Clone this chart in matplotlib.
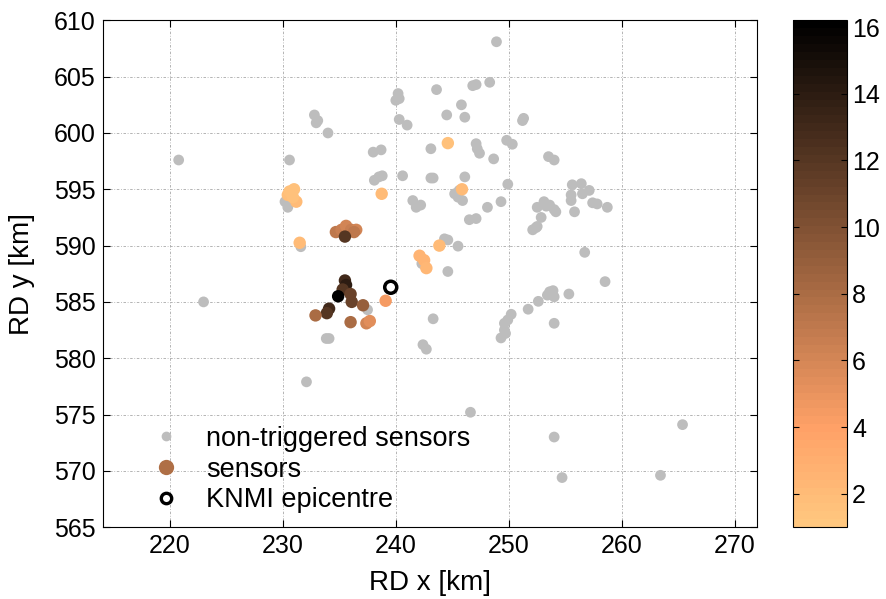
import matplotlib
matplotlib.use("Agg")
import numpy as np
from matplotlib import pyplot as plt
from matplotlib.lines import Line2D

plt.rcParams["font.family"] = ["Liberation Sans", "DejaVu Sans"]

# non-triggered sensors (RD km)
gray_x = [220.8, 223.0, 230.6, 230.2, 230.45, 231.6, 232.8, 233.1, 232.96, 234.0,
          232.1, 233.85, 234.1, 238.0, 238.7, 238.1, 238.5, 238.8, 240.2, 240.0,
          240.3, 240.3, 241.0, 240.6, 241.5, 241.8, 242.2, 243.1, 243.6, 244.5,
          245.8, 246.1, 246.1, 246.8, 247.1, 248.3, 248.9, 247.1, 247.2, 247.4,
          248.65, 249.8, 250.3, 251.3, 251.2, 253.5, 254.0, 243.1, 243.3, 249.9,
          245.2, 245.5, 245.9, 245.6, 249.3, 248.1, 246.5, 247.1, 252.5, 253.1,
          253.6, 254.0, 252.85, 252.4, 253.3, 254.15, 252.1, 252.5, 255.6, 256.4,
          257.1, 255.5, 255.5, 257.4, 257.8, 255.8, 258.7, 256.5, 256.7, 258.5,
          244.3, 244.6, 245.5, 244.6, 242.3, 237.5, 243.3, 242.4, 242.7, 253.4,
          253.9, 254.0, 255.3, 253.6, 252.6, 251.7, 250.2, 249.9, 249.6, 249.6,
          249.3, 249.7, 254.0, 246.6, 254.0, 254.7, 263.4, 265.35]
gray_y = [597.6, 585.0, 597.6, 593.9, 593.4, 589.9, 601.6, 601.1, 600.9, 600.0,
          577.9, 581.75, 581.75, 598.3, 598.5, 595.8, 596.1, 596.2, 603.5, 602.9,
          603.05, 601.2, 600.7, 596.2, 594.0, 593.4, 593.6, 598.6, 603.85, 601.6,
          602.5, 601.4, 596.1, 604.2, 604.3, 604.5, 608.1, 599.05, 598.6, 598.2,
          597.7, 599.35, 599.0, 601.3, 601.1, 597.9, 597.6, 596.0, 596.0, 595.45,
          594.6, 594.3, 594.0, 594.9, 593.9, 593.4, 592.3, 592.4, 593.4, 593.9,
          593.6, 593.2, 592.5, 591.6, 593.5, 593.0, 591.4, 591.7, 595.4, 595.5,
          594.9, 594.5, 594.0, 593.8, 593.7, 593.0, 593.4, 594.6, 589.4, 586.8,
          590.6, 590.5, 589.95, 587.7, 588.4, 584.3, 583.5, 581.2, 580.8, 585.6,
          586.0, 585.45, 585.7, 585.9, 585.05, 584.35, 583.9, 583.4, 583.1, 582.5,
          581.8, 582.2, 583.1, 575.2, 573.0, 569.4, 569.6, 574.1]

# triggered sensors and their colour value
sens_x = [231.0, 230.45, 231.2, 230.9, 230.6, 231.5, 238.75, 244.6, 245.85, 243.85,
          242.1, 242.5, 242.7, 239.1,
          234.7, 235.2, 235.6, 236.05, 236.5, 236.3, 235.5,
          235.5, 235.6, 235.3, 234.9, 236.0, 236.1, 234.1, 233.9, 232.9, 237.1,
          236.0, 237.4, 237.7]
sens_y = [595.0, 594.5, 593.9, 594.3, 594.8, 590.25, 594.6, 599.1, 595.0, 590.0,
          589.1, 588.7, 588.0, 585.1,
          591.2, 591.4, 591.75, 591.4, 591.4, 591.2, 590.8,
          586.9, 586.5, 586.1, 585.5, 585.7, 585.0, 584.4, 584.0, 583.8, 584.7,
          583.2, 583.1, 583.3]
sens_val = [1.5, 1.8, 2.0, 1.6, 1.5, 2.0, 2.0, 1.5, 2.0, 2.0,
            2.6, 2.5, 2.3, 4.5,
            7.0, 6.5, 6.0, 6.5, 6.0, 7.0, 12.0,
            13.0, 14.0, 12.0, 16.0, 11.0, 11.0, 13.0, 12.0, 8.0, 9.0,
            8.0, 6.0, 5.5]

epi_x = [239.55]
epi_y = [586.3]

cmap = plt.get_cmap("copper_r", 64)
gray = "#bdbdbd"

fig = plt.figure(figsize=(8.87, 5.99), dpi=100)
ax = fig.add_axes([0.116, 0.120, 0.737, 0.846])
cax = fig.add_axes([0.894, 0.120, 0.061, 0.846])

ax.scatter(gray_x, gray_y, s=60, color=gray, edgecolors="none", zorder=2)
sc = ax.scatter(sens_x, sens_y, c=sens_val, cmap=cmap, vmin=1, vmax=16.2,
                s=80, edgecolors="none", zorder=3)
ax.scatter(epi_x, epi_y, s=75, facecolors="none", edgecolors="black",
           linewidths=2.5, zorder=4)

ax.set_xlim(214.1, 271.9)
ax.set_ylim(565, 610)
ax.set_xticks(np.arange(220, 271, 10))
ax.set_yticks(np.arange(565, 611, 5))
ax.grid(True, color="#a8a8a8", linestyle=(0, (3, 2, 1, 2)), linewidth=0.6)
ax.set_axisbelow(True)
ax.tick_params(direction="in", top=True, right=True, labelsize=18, length=5, pad=5)
ax.set_xlabel("RD x [km]", fontsize=20, va="center")
ax.set_ylabel("RD y [km]", fontsize=20, va="center")
ax.xaxis.set_label_coords(0.5, -0.110)
ax.yaxis.set_label_coords(-0.124, 0.5)
for sp in ax.spines.values():
    sp.set_linewidth(0.8)

handles = [
    Line2D([], [], linestyle="none", marker="o", markersize=7,
           markerfacecolor=gray, markeredgecolor="none"),
    Line2D([], [], linestyle="none", marker="o", markersize=11,
           markerfacecolor=cmap(0.45), markeredgecolor="none"),
    Line2D([], [], linestyle="none", marker="o", markersize=7.5,
           markerfacecolor="none", markeredgecolor="black", markeredgewidth=2.4),
]
ax.legend(handles, ["non-triggered sensors", "sensors", "KNMI epicentre"],
          loc="lower left", bbox_to_anchor=(0.03, -0.005), frameon=False,
          fontsize=19.5, handletextpad=0.5, labelspacing=0.18, borderaxespad=0.2)

cb = fig.colorbar(sc, cax=cax)
cb.set_ticks(np.arange(2, 17, 2))
cb.ax.tick_params(direction="in", left=True, right=True, labelsize=18, length=4)
cb.outline.set_linewidth(0.8)

fig.savefig("out.png", dpi=100, facecolor="white")
